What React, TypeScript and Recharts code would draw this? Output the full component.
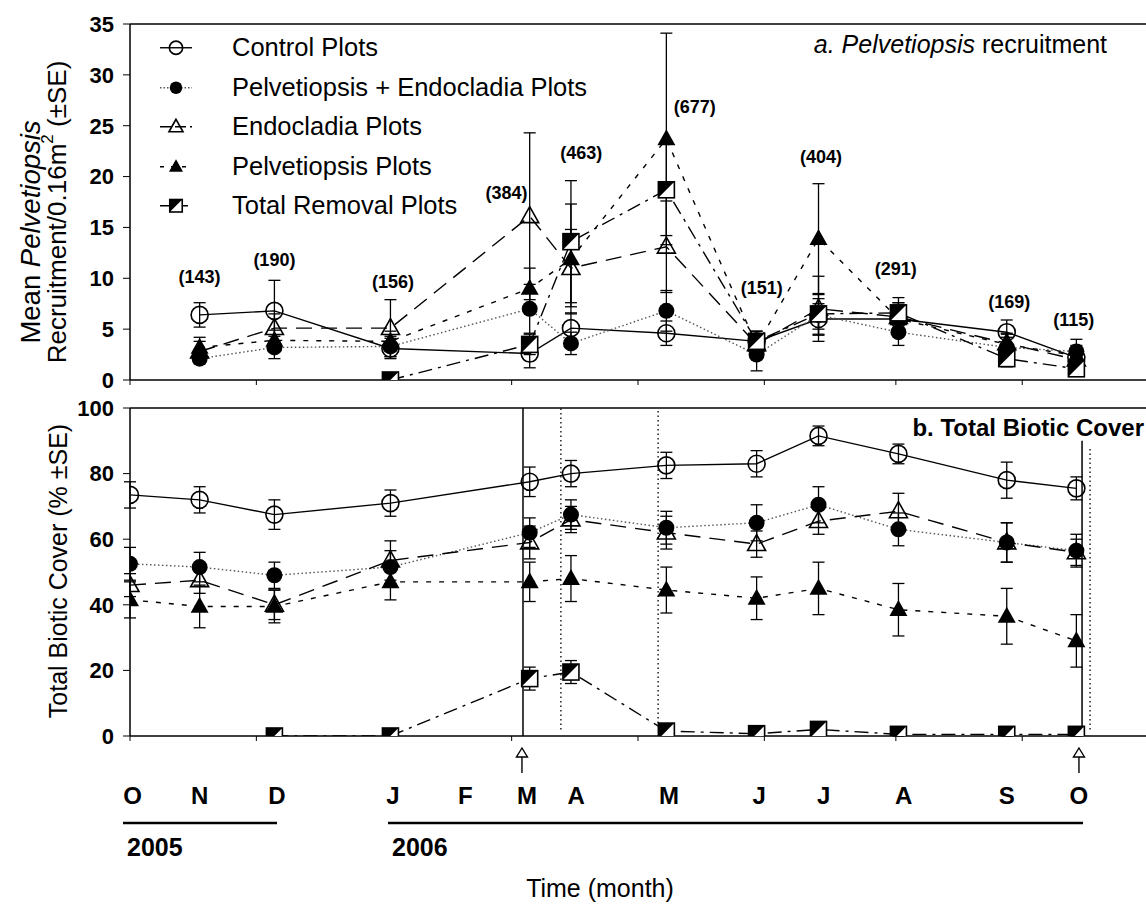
import React from 'react';
import { ComposedChart, Line, Scatter, XAxis, YAxis, ErrorBar, ReferenceLine, Legend } from 'recharts';

const FONT = '"Liberation Sans", Arial, Helvetica, sans-serif';

// census dates, in days after the first (October 2005) survey
const coverDays = [0, 27, 56, 101, 155, 171, 208, 243, 267, 298, 340, 367];
const recruitDays = [27, 56, 101, 155, 171, 208, 243, 267, 298, 340, 367];

// a. Pelvetiopsis recruitment per 0.16 m2 (mean, SE)
const recControl = [6.4, 6.8, 3.1, 2.6, 5.1, 4.6, 3.8, 6.0, 6.0, 4.7, 2.2];
const recControlSE = [1.2, 3.0, 1.0, 1.4, 1.5, 1.2, 1.0, 1.5, 1.0, 1.2, 0.8];
const recBoth = [2.1, 3.2, 3.3, 7.0, 3.6, 6.8, 2.5, 6.4, 4.7, 3.2, 2.8];
const recBothSE = [0.5, 1.1, 1.0, 2.4, 1.1, 2.0, 1.6, 2.0, 1.3, 1.0, 1.2];
const recEndo = [2.8, 5.1, 5.1, 16.1, 11.0, 13.1, 3.5, 7.0, 6.2, 3.6, 2.0];
const recEndoSE = [1.0, 1.4, 2.8, 8.2, 3.8, 4.5, 1.0, 3.2, 1.4, 1.0, 0.8];
const recPelv = [3.2, 3.9, 3.8, 9.0, 11.9, 23.7, 3.4, 13.9, 6.0, 3.5, 2.4];
const recPelvSE = [1.0, 1.0, 1.0, 2.0, 5.4, 10.4, 1.0, 5.4, 1.6, 1.0, 1.0];
const recRemoval = [null, null, 0, 3.5, 13.6, 18.7, 3.8, 6.5, 6.6, 2.1, 1.1];
const recRemovalSE = [null, null, 0, 1.0, 6.0, 4.5, 1.0, 1.5, 1.5, 0.8, 0.5];

// total recruits counted at each census, printed above the points
const recTotals = ['(143)', '(190)', '(156)', '(384)', '(463)', '(677)', '(151)', '(404)', '(291)', '(169)', '(115)'];
const recTotalDays = [27, 56, 102, 146, 175, 219, 245, 268, 297, 341, 366];
const recTotalY = [10.1, 11.8, 9.6, 18.4, 22.3, 26.8, 9.0, 21.9, 10.9, 7.7, 5.9];

// b. total biotic cover, % (mean, SE)
const covControl = [73.5, 72, 67.5, 71, 77.5, 80, 82.5, 83, 91.5, 86, 78, 75.5];
const covControlSE = [4, 4, 4.5, 4, 4.5, 4, 4, 4, 3, 3, 5.5, 3.5];
const covBoth = [52.5, 51.5, 49, 51.5, 62, 67.5, 63.5, 65, 70.5, 63, 59, 56.5];
const covBothSE = [5, 4.5, 4, 5, 4.5, 4.5, 5, 5.5, 5.5, 5, 6, 5];
const covEndo = [46, 47.5, 40, 53.5, 59, 66, 62, 58.5, 65.5, 68.5, 59, 56];
const covEndoSE = [3.5, 4, 4.5, 6, 5, 4, 5, 4, 4, 5.5, 6, 4];
const covPelv = [41.5, 39.5, 39.5, 47, 47, 48, 44.5, 42, 45, 38.5, 36.5, 29];
const covPelvSE = [5.5, 6.5, 5, 5.5, 6, 7, 7, 6.5, 8, 8, 8.5, 8];
const covRemoval = [null, null, 0, 0, 17.5, 19.5, 1.5, 0.7, 2, 0.5, 0.5, 0.5];
const covRemovalSE = [null, null, 0, 0, 3.5, 3.5, 1, 0.5, 0.5, 0.5, 0.5, 0.5];

// time axis
const monthLabels = ['O', 'N', 'D', 'J', 'F', 'M', 'A', 'M', 'J', 'J', 'A', 'S', 'O'];
const monthDays = [1, 27, 57, 102, 130, 154, 173, 209, 244, 269, 300, 340, 368];
const tickMarkDays = [0, 49, 148, 197, 246, 297, 346];
const arrowDays = [152, 368];

// vertical guides in panel b
const solidGuideDays = [152.4, 369.2];
const solidGuideTop = [100, 90];
const dottedGuideDays = [167.1, 204.8, 372.3];
const dottedGuideTop = [100, 100, 88];
const dottedGuideBottom = [2, 4, 2];

type MarkerKind = 'openCircle' | 'filledCircle' | 'openTriangle' | 'filledTriangle' | 'halfSquare';

const series: { key: string; name: string; marker: MarkerKind; dash?: string; legendDash?: string; stroke: string }[] = [
  { key: 'control', name: 'Control Plots', marker: 'openCircle', stroke: '#000' },
  { key: 'both', name: 'Pelvetiopsis + Endocladia Plots', marker: 'filledCircle', dash: '1.5 2.5', legendDash: '1.5 2', stroke: '#555' },
  { key: 'endo', name: 'Endocladia Plots', marker: 'openTriangle', dash: '16 9', legendDash: '11 4', stroke: '#000' },
  { key: 'pelv', name: 'Pelvetiopsis Plots', marker: 'filledTriangle', dash: '5 8', legendDash: '4 7', stroke: '#000' },
  { key: 'removal', name: 'Total Removal Plots', marker: 'halfSquare', dash: '14 6 3 6', legendDash: '9 4 2 4', stroke: '#000' },
];

const recruitData = recruitDays.map((day, i) => ({
  day,
  control: recControl[i], controlSE: recControlSE[i],
  both: recBoth[i], bothSE: recBothSE[i],
  endo: recEndo[i], endoSE: recEndoSE[i],
  pelv: recPelv[i], pelvSE: recPelvSE[i],
  removal: recRemoval[i], removalSE: recRemovalSE[i],
}));

const coverData = coverDays.map((day, i) => ({
  day,
  control: covControl[i], controlSE: covControlSE[i],
  both: covBoth[i], bothSE: covBothSE[i],
  endo: covEndo[i], endoSE: covEndoSE[i],
  pelv: covPelv[i], pelvSE: covPelvSE[i],
  removal: covRemoval[i], removalSE: covRemovalSE[i],
}));

const totalsData = recTotals.map((label, i) => ({ day: recTotalDays[i], y: recTotalY[i], label }));

const Marker = ({ kind, cx, cy, size = 1 }: { kind: MarkerKind; cx: number; cy: number; size?: number }) => {
  const sw = 1.6;
  if (kind === 'openCircle') return <circle cx={cx} cy={cy} r={8.5 * size} fill="none" stroke="#000" strokeWidth={sw} />;
  if (kind === 'filledCircle') return <circle cx={cx} cy={cy} r={8 * size} fill="#000" />;
  if (kind === 'openTriangle' || kind === 'filledTriangle') {
    const h = 16 * size;
    const w = 9 * size;
    const pts = `${cx},${cy - h * 0.6} ${cx - w},${cy + h * 0.4} ${cx + w},${cy + h * 0.4}`;
    return kind === 'openTriangle'
      ? <polygon points={pts} fill="none" stroke="#000" strokeWidth={sw} />
      : <polygon points={pts} fill="#000" />;
  }
  const s = 8 * size;
  return (
    <g>
      <rect x={cx - s} y={cy - s} width={2 * s} height={2 * s} fill="#fff" stroke="#000" strokeWidth={sw} />
      <polygon points={`${cx - s},${cy - s} ${cx + s},${cy - s} ${cx - s},${cy + s}`} fill="#000" />
    </g>
  );
};

const dotFor = (kind: MarkerKind, key: string) => (p: any) => {
  if (p.value == null || p.cy == null || Number.isNaN(p.cy)) return <g key={`${key}-${p.index}`} />;
  return <g key={`${key}-${p.index}`}><Marker kind={kind} cx={p.cx} cy={p.cy} /></g>;
};

const renderLines = () =>
  series.map((s) => (
    <Line
      key={s.key}
      type="linear"
      dataKey={s.key}
      stroke={s.stroke}
      strokeWidth={1.4}
      strokeDasharray={s.dash}
      dot={dotFor(s.marker, s.key)}
      activeDot={false}
      legendType="none"
      isAnimationActive={false}
    >
      <ErrorBar dataKey={`${s.key}SE`} width={6} stroke="#000" strokeWidth={1.3} direction="y" isAnimationActive={false} />
    </Line>
  ));

const MarkTick = (p: any) => {
  const v = p.payload.value;
  if (!tickMarkDays.includes(v)) return <g />;
  return <line x1={p.x} y1={p.y} x2={p.x} y2={p.y + 5} stroke="#000" strokeWidth={1} />;
};

const MonthTick = (p: any) => {
  const v = p.payload.value;
  const { x, y } = p;
  const mi = monthDays.indexOf(v);
  return (
    <g>
      {tickMarkDays.includes(v) && <line x1={x} y1={y} x2={x} y2={y + 5} stroke="#000" strokeWidth={1} />}
      {arrowDays.includes(v) && (
        <g stroke="#000" strokeWidth={1.4} fill="#fff">
          <line x1={x} y1={y + 21} x2={x} y2={y + 37} />
          <polygon points={`${x},${y + 12} ${x - 5.5},${y + 21} ${x + 5.5},${y + 21}`} />
        </g>
      )}
      {mi >= 0 && (
        <text x={x} y={y + 68} textAnchor="middle" fontSize={24} fontWeight={700} fontFamily={FONT} fill="#000">
          {monthLabels[mi]}
        </text>
      )}
    </g>
  );
};

const TotalLabel = (p: any) => (
  <text x={p.cx} y={p.cy} textAnchor="middle" dominantBaseline="central" fontSize={18} fontWeight={700} fontFamily={FONT} fill="#000">
    {p.payload.label}
  </text>
);

const LegendKey = () => (
  <div style={{ fontFamily: FONT, fontSize: 25.5, color: '#000' }}>
    {series.map((s) => (
      <div key={s.key} style={{ display: 'flex', alignItems: 'center', height: 39.5 }}>
        <svg width={77} height={39.5} style={{ flex: 'none' }}>
          <line x1={5} y1={19.75} x2={37} y2={19.75} stroke={s.stroke} strokeWidth={1.4} strokeDasharray={s.legendDash} />
          <Marker kind={s.marker} cx={21} cy={19.75} size={0.78} />
        </svg>
        <span style={{ whiteSpace: 'nowrap' }}>{s.name}</span>
      </div>
    ))}
  </div>
);

const allCoverTicks = [...new Set([...tickMarkDays, ...monthDays, ...arrowDays])].sort((a, b) => a - b);

export default function App() {
  return (
    <div style={{ position: 'absolute', left: 0, top: 0, width: 1146, height: 904, background: '#fff', fontFamily: FONT }}>
      {/* a. recruitment */}
      <div style={{ position: 'absolute', left: 0, top: 0 }}>
        <ComposedChart width={1146} height={400} data={recruitData} margin={{ top: 24, right: 0, bottom: 0, left: 0 }}>
          <XAxis
            type="number"
            dataKey="day"
            domain={[0, 394]}
            ticks={tickMarkDays}
            interval={0}
            tick={MarkTick}
            tickLine={false}
            tickSize={0}
            tickMargin={0}
            height={20}
            axisLine={{ stroke: '#000', strokeWidth: 1.5 }}
            allowDataOverflow
          />
          <YAxis
            type="number"
            domain={[0, 35]}
            ticks={[0, 5, 10, 15, 20, 25, 30, 35]}
            interval={0}
            width={130}
            tickSize={7}
            tickMargin={9}
            axisLine={{ stroke: '#000', strokeWidth: 1.5 }}
            tickLine={{ stroke: '#000' }}
            tick={{ fill: '#000', fontSize: 22, fontWeight: 700, fontFamily: FONT }}
            allowDataOverflow
          />
          <ReferenceLine y={35} stroke="#000" strokeWidth={1.5} />
          {renderLines()}
          <Scatter data={totalsData} dataKey="y" shape={TotalLabel} legendType="none" isAnimationActive={false} />
          <Legend
            content={<LegendKey />}
            layout="horizontal"
            verticalAlign="middle"
            align="center"
            wrapperStyle={{ top: 28, left: 155, width: 480 }}
          />
        </ComposedChart>
      </div>

      {/* b. total biotic cover */}
      <div style={{ position: 'absolute', left: 0, top: 390 }}>
        <ComposedChart width={1146} height={514} data={coverData} margin={{ top: 18, right: 0, bottom: 0, left: 0 }}>
          <XAxis
            type="number"
            dataKey="day"
            domain={[0, 394]}
            ticks={allCoverTicks}
            interval={0}
            tick={MonthTick}
            tickLine={false}
            tickSize={0}
            tickMargin={0}
            height={168}
            axisLine={{ stroke: '#000', strokeWidth: 1.5 }}
            allowDataOverflow
          />
          <YAxis
            type="number"
            domain={[0, 100]}
            ticks={[0, 20, 40, 60, 80, 100]}
            interval={0}
            width={130}
            tickSize={7}
            tickMargin={9}
            axisLine={{ stroke: '#000', strokeWidth: 1.5 }}
            tickLine={{ stroke: '#000' }}
            tick={{ fill: '#000', fontSize: 22, fontWeight: 700, fontFamily: FONT }}
            allowDataOverflow
          />
          <ReferenceLine y={100} stroke="#000" strokeWidth={1.5} />
          {solidGuideDays.map((d, i) => (
            <ReferenceLine key={`s${i}`} segment={[{ x: d, y: 0 }, { x: d, y: solidGuideTop[i] }]} stroke="#000" strokeWidth={1.5} />
          ))}
          {dottedGuideDays.map((d, i) => (
            <ReferenceLine
              key={`d${i}`}
              segment={[{ x: d, y: dottedGuideBottom[i] }, { x: d, y: dottedGuideTop[i] }]}
              stroke="#000"
              strokeWidth={1.3}
              strokeDasharray="1.5 3"
            />
          ))}
          {renderLines()}
        </ComposedChart>
      </div>

      {/* axis titles, panel titles and year bars */}
      <svg width={1146} height={904} style={{ position: 'absolute', left: 0, top: 0, pointerEvents: 'none' }} fontFamily={FONT} fill="#000">
        <text transform="translate(30,232) rotate(-90)" textAnchor="middle" dominantBaseline="central" fontSize={27.5}>
          Mean <tspan fontStyle="italic">Pelvetiopsis</tspan>
        </text>
        <text transform="translate(57,212) rotate(-90)" textAnchor="middle" dominantBaseline="central" fontSize={26}>
          Recruitment/0.16m<tspan dy={-10} fontSize={17}>2</tspan><tspan dy={10}> (±SE)</tspan>
        </text>
        <text transform="translate(58,571) rotate(-90)" textAnchor="middle" dominantBaseline="central" fontSize={25}>
          Total Biotic Cover (% ±SE)
        </text>
        <text x={1107} y={53} textAnchor="end" fontSize={25}>
          <tspan fontStyle="italic">a. Pelvetiopsis</tspan> recruitment
        </text>
        <text x={1144} y={436} textAnchor="end" fontSize={24} fontWeight={700}>
          b. Total Biotic Cover
        </text>
        <line x1={123} y1={823} x2={277} y2={823} stroke="#000" strokeWidth={2.5} />
        <line x1={388} y1={823} x2={1083} y2={823} stroke="#000" strokeWidth={2.5} />
        <text x={127} y={856} fontSize={25} fontWeight={700}>2005</text>
        <text x={392} y={856} fontSize={25} fontWeight={700}>2006</text>
        <text x={600} y={897} textAnchor="middle" fontSize={25}>Time (month)</text>
      </svg>
    </div>
  );
}
